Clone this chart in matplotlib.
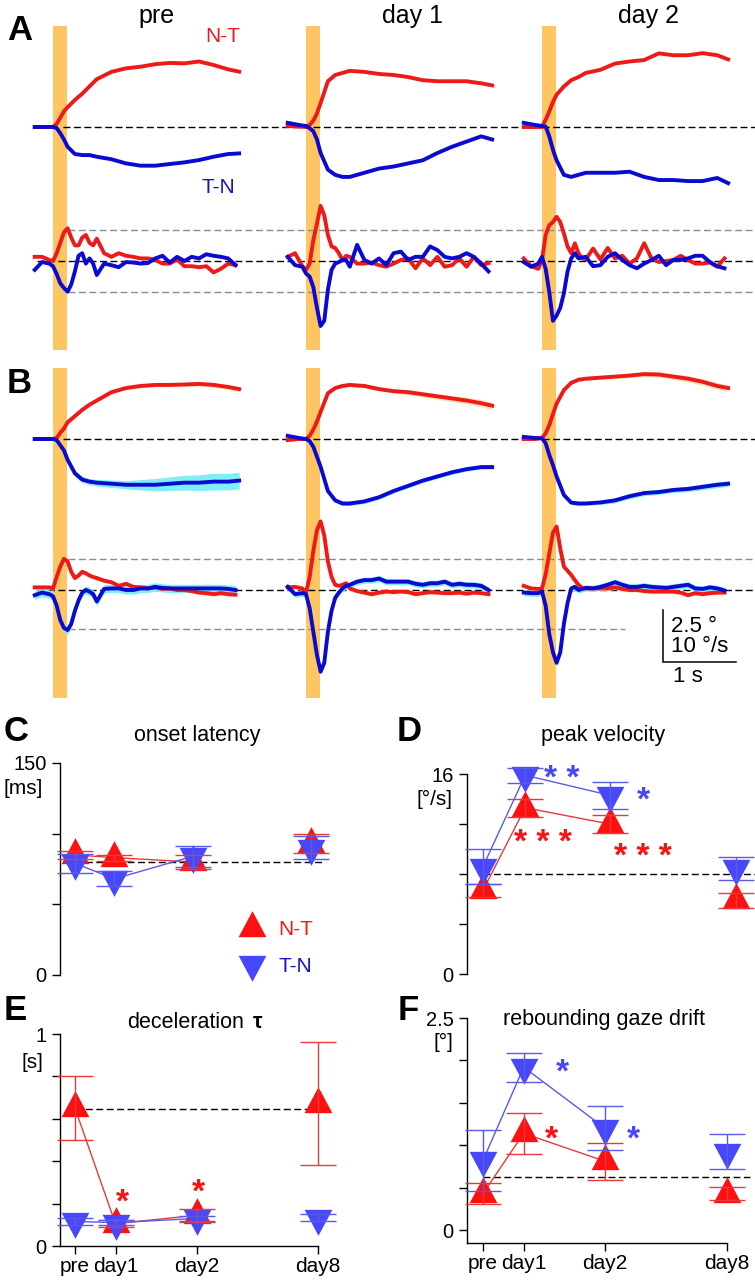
import numpy as np
import matplotlib
matplotlib.use('Agg')
import matplotlib.pyplot as plt
from matplotlib.lines import Line2D
from matplotlib.path import Path

plt.rcParams['font.family'] = ['Liberation Sans', 'DejaVu Sans']

# ---------------- trace data ----------------
# time (s) relative to stimulus onset
t_pos = [-0.25, -0.1, 0.0, 0.05, 0.1, 0.15, 0.2, 0.3, 0.4, 0.5, 0.6, 0.8,
         1.0, 1.2, 1.4, 1.6, 1.8, 2.0, 2.2, 2.4, 2.55]
t_vel = [-0.25, -0.15, -0.05, 0.0, 0.05, 0.1, 0.15, 0.2, 0.25, 0.3, 0.35,
         0.4, 0.45, 0.5, 0.55, 0.6, 0.7, 0.8, 0.9, 1.0, 1.1, 1.2, 1.3, 1.4,
         1.5, 1.6, 1.7, 1.8, 1.9, 2.0, 2.1, 2.2, 2.3, 2.4, 2.5]

# panel A, eye position (deg)
a_pre_nt_pos = [0, 0, 0, 0.15, 0.45, 0.75, 0.95, 1.3, 1.6, 1.95, 2.3, 2.65,
                2.82, 2.9, 3.02, 3.08, 3.06, 3.15, 2.98, 2.77, 2.66]
a_pre_tn_pos = [0, 0, 0, -0.05, -0.3, -0.6, -0.95, -1.3, -1.35, -1.35, -1.43,
                -1.55, -1.75, -1.86, -1.86, -1.78, -1.7, -1.59, -1.43, -1.3, -1.27]
a_d1_nt_pos = [0.05, 0.02, 0, 0.1, 0.3, 0.65, 1.15, 2.2, 2.5, 2.6, 2.7, 2.65,
               2.55, 2.5, 2.4, 2.25, 2.2, 2.2, 2.2, 2.1, 2.0]
a_d1_tn_pos = [0.2, 0.1, 0.05, -0.06, -0.2, -0.6, -1.25, -2.05, -2.3, -2.4,
               -2.4, -2.2, -2.0, -1.9, -1.75, -1.6, -1.25, -0.95, -0.7, -0.45, -0.6]
a_d2_nt_pos = [0, 0, 0, 0.35, 0.75, 1.2, 1.55, 1.95, 2.25, 2.4, 2.6, 2.75,
               3.05, 3.15, 3.22, 3.54, 3.45, 3.45, 3.55, 3.45, 3.25]
a_d2_tn_pos = [0.2, 0.1, 0.05, 0.02, -0.45, -1.1, -1.6, -2.3, -2.4, -2.3,
               -2.2, -2.2, -2.2, -2.15, -2.4, -2.55, -2.55, -2.6, -2.6, -2.45, -2.7]

# panel A, eye velocity (deg/s)
a_pre_nt_vel = [0.8, 0.8, 0.2, 0.0, 1.5, 3.5, 5.5, 6.3, 4.5, 3.0, 3.0, 4.5,
                5.0, 3.5, 3.0, 4.3, 1.5, 0.8, 1.5, 1.0, 0.8, 0.5, 0.5, 0.2,
                -0.5, -0.5, 0.3, -1.0, -1.0, -1.2, -1.0, -2.2, -1.5, -0.5, -0.8]
a_pre_tn_vel = [-1.7, -0.2, -0.5, -1.0, -2.5, -4.3, -5.2, -5.9, -4.5, -2.0,
                1.0, 1.5, -0.5, 0.5, -0.5, -2.7, -0.5, -0.8, -1.2, -0.2, -0.3,
                -0.5, -0.4, 0.5, 1.0, -0.3, 0.8, 0.0, 0.8, 0.5, 1.3, 1.0, 0.8,
                0.5, -0.8]
a_d1_nt_vel = [0.8, 1.5, -1.0, -1.7, -0.5, 4.0, 7.2, 10.6, 8.8, 5.0, 2.8, 2.5,
               1.5, 0.2, 1.0, 0.8, -0.5, -0.5, -0.3, -0.8, -1.1, -0.5, 0.2,
               0.5, -1.4, 0.5, -0.8, 0.8, -1.1, -0.8, 0.5, -1.1, 0.8, -0.8, -0.4]
a_d1_tn_vel = [0.8, -0.8, -1.1, -2.4, -3.0, -5.0, -9.0, -12.5, -11.5, -5.5,
               -1.7, -0.5, -0.2, 0.2, 0.2, -1.1, 3.1, 0.2, -0.5, 0.5, -0.8,
               1.5, 1.8, 0.2, 0.8, 0.8, 2.8, 2.1, 0.8, 0.5, 0.8, 1.5, 0.8,
               -0.5, -2.0]
a_d2_nt_vel = [0.5, -1.0, -1.5, 0.2, 5.0, 6.9, 7.5, 8.5, 7.5, 5.3, 2.8, 1.5,
               3.4, 1.5, 0.5, 0.3, 2.4, 0.3, 2.5, 0.5, 1.0, -0.5, 0.5, 3.4,
               0.5, -0.2, 0.0, 0.2, 1.0, 0.2, -0.5, -0.5, -0.3, -1.1, 0.5]
a_d2_tn_vel = [-0.2, -1.1, -0.5, 0.8, -1.5, -6.0, -11.5, -10.5, -9.0, -6.2,
               -2.0, 0.5, 1.5, 0.5, 0.7, 0.8, -1.0, -0.8, 0.8, 1.5, 0.2, -0.8,
               -1.4, -0.5, 0.2, 1.0, -0.8, 0.2, 0.2, 0.5, 1.0, 1.0, -0.2,
               -1.0, -1.4]

# panel B (averages), eye position (deg) and SEM
b_pre_nt_pos = [0, 0, 0, 0.05, 0.3, 0.5, 0.8, 1.1, 1.4, 1.65, 1.85, 2.25,
                2.45, 2.55, 2.6, 2.6, 2.62, 2.65, 2.6, 2.5, 2.4]
b_pre_tn_pos = [0, 0, 0, -0.05, -0.3, -0.55, -1.0, -1.65, -1.95, -2.05, -2.1,
                -2.15, -2.2, -2.2, -2.2, -2.15, -2.1, -2.1, -2.05, -2.05, -2.0]
b_d1_nt_pos = [-0.05, 0, 0, 0.15, 0.45, 0.83, 1.3, 2.2, 2.45, 2.55, 2.6, 2.55,
               2.4, 2.3, 2.25, 2.15, 2.05, 1.95, 1.85, 1.72, 1.6]
b_d1_tn_pos = [0.15, 0.05, 0, -0.1, -0.37, -0.85, -1.33, -2.5, -2.95, -3.1,
               -3.1, -3.0, -2.8, -2.5, -2.25, -2.0, -1.8, -1.6, -1.45, -1.35, -1.35]
b_d2_nt_pos = [0, 0, 0.05, 0.27, 0.67, 1.2, 1.7, 2.35, 2.7, 2.85, 2.9, 2.95,
               3.0, 3.05, 3.12, 3.1, 3.0, 2.9, 2.75, 2.55, 2.45]
b_d2_tn_pos = [0.1, 0.05, 0.03, -0.2, -0.77, -1.25, -1.8, -2.69, -3.06, -3.1,
               -3.1, -3.05, -2.95, -2.75, -2.6, -2.55, -2.45, -2.4, -2.3, -2.2, -2.15]

b_pre_nt_sem = [0.03, 0.03, 0.03, 0.04, 0.05, 0.06, 0.07, 0.08, 0.08, 0.08,
                0.08, 0.08, 0.08, 0.09, 0.1, 0.1, 0.1, 0.1, 0.12, 0.12, 0.12]
b_pre_tn_sem = [0.03, 0.03, 0.03, 0.05, 0.08, 0.1, 0.12, 0.15, 0.15, 0.15,
                0.16, 0.18, 0.2, 0.25, 0.3, 0.33, 0.35, 0.38, 0.4, 0.4, 0.4]
b_d1_nt_sem = [0.03, 0.03, 0.03, 0.04, 0.05, 0.06, 0.07, 0.08, 0.08, 0.08,
               0.08, 0.09, 0.1, 0.1, 0.12, 0.13, 0.14, 0.15, 0.16, 0.18, 0.18]
b_d1_tn_sem = [0.03, 0.03, 0.03, 0.04, 0.05, 0.06, 0.07, 0.08, 0.1, 0.1, 0.1,
               0.1, 0.1, 0.1, 0.1, 0.1, 0.1, 0.1, 0.1, 0.1, 0.1]
b_d2_nt_sem = [0.03, 0.03, 0.03, 0.04, 0.05, 0.06, 0.07, 0.08, 0.08, 0.08,
               0.08, 0.08, 0.1, 0.1, 0.12, 0.13, 0.14, 0.15, 0.16, 0.16, 0.16]
b_d2_tn_sem = [0.03, 0.03, 0.03, 0.04, 0.05, 0.06, 0.07, 0.08, 0.1, 0.1, 0.1,
               0.1, 0.12, 0.12, 0.12, 0.12, 0.12, 0.13, 0.14, 0.14, 0.14]

# panel B, eye velocity (deg/s)
b_pre_nt_vel = [0.5, 0.5, 0.5, 0.3, 2.5, 4.5, 6.0, 5.5, 3.5, 2.3, 2.8, 3.5,
                3.2, 2.8, 2.5, 2.3, 1.8, 1.5, 0.8, 1.2, 0.6, 0.5, 0.3, 0.5,
                0.2, 0.3, 0.0, 0.0, -0.2, -0.5, -0.6, -0.8, -0.6, -0.8, -0.9]
b_pre_tn_vel = [-1.0, -0.5, -0.8, -1.2, -3.0, -5.8, -7.3, -7.7, -6.5, -4.0,
                -2.0, -0.5, 0.0, -0.3, -0.8, -2.2, 0.2, 0.3, 0.3, 0.0, 0.0,
                0.3, 0.3, 0.6, 0.4, 0.3, 0.3, 0.3, 0.3, 0.3, 0.3, 0.3, 0.3,
                0.2, 0.0]
b_d1_nt_vel = [0.5, 0.6, 0.3, -0.5, 2.5, 7.5, 11.5, 13.2, 10.5, 5.5, 2.5, 1.0,
               0.8, 1.0, 1.3, 0.3, -0.2, -0.5, -0.8, -0.5, -0.3, -0.4, -0.3,
               -0.4, -0.8, -0.6, -0.4, -0.5, -0.6, -0.6, -0.5, -0.7, -0.5,
               -0.6, -0.8]
b_d1_tn_vel = [0.6, -0.8, -0.6, -0.8, -3.5, -8.0, -12.5, -15.7, -14.0, -8.0,
               -4.0, -1.5, -0.5, 0.3, 0.8, 1.0, 1.6, 1.9, 1.9, 2.2, 1.6, 1.6,
               1.6, 1.6, 1.2, 1.0, 1.3, 1.3, 1.6, 1.0, 1.2, 1.0, 1.0, 0.8, 0.0]
b_d2_nt_vel = [0.8, 0.3, 0.2, 0.3, 3.0, 7.0, 11.0, 12.2, 8.0, 4.5, 3.7, 2.9,
               1.9, 1.0, 0.4, 0.3, 0.3, 0.3, 0.3, 0.5, 0.2, 0.0, 0.0, -0.2,
               -0.3, -0.3, -0.3, -0.3, -0.5, -1.0, -0.6, -0.8, -0.6, -0.5, -0.5]
b_d2_tn_vel = [-0.5, -0.6, -0.6, -0.3, -3.0, -8.5, -12.0, -14.0, -12.0, -6.5,
               -2.5, 0.3, 0.6, 0.0, 0.2, 0.4, 0.3, 0.6, 1.0, 1.5, 1.0, 0.6,
               0.6, 0.8, 0.6, 0.5, 0.4, 0.6, 0.8, 1.0, 0.3, 0.2, 0.5, 0.3, -0.1]
b_vel_sem = [0.4, 0.8, 0.4, 0.6, 0.4, 0.6]   # pre NT, pre TN, d1 NT, d1 TN, d2 NT, d2 TN

col_labels = ['pre', 'day 1', 'day 2']

# ---------------- summary data (mean, SEM) ----------------
days = ['pre', 'day1', 'day2', 'day8']
day_pos = [0, 1, 3, 6]

lat_nt = [85, 83, 80, 93]
lat_nt_sem = [3, 2, 5, 7]
lat_tn = [79, 68, 84, 90]
lat_tn_sem = [6.5, 5.3, 7.5, 8]
lat_base = 80

pv_nt = [6.7, 13.3, 12.0, 5.9]
pv_nt_sem = [0.5, 0.7, 0.7, 0.6]
pv_tn = [8.6, 15.9, 14.3, 8.45]
pv_tn_sem = [1.4, 0.6, 1.1, 0.9]
pv_base = 8.0

tau_nt = [0.65, 0.105, 0.145, 0.67]
tau_nt_sem = [0.15, 0.016, 0.03, 0.29]
tau_tn = [0.116, 0.11, 0.13, 0.133]
tau_tn_sem = [0.018, 0.012, 0.012, 0.017]
tau_base = 0.645

drift_nt = [0.43, 1.14, 0.81, 0.43]
drift_nt_sem = [0.12, 0.24, 0.22, 0.08]
drift_tn = [0.82, 1.92, 1.2, 0.925]
drift_tn_sem = [0.36, 0.17, 0.26, 0.21]
drift_base = 0.62

# ---------------- style ----------------
RED = '#ee1a1a'
BLUE = '#0a0ad0'
ORANGE = '#fdc662'
BAND_RED = '#fde0b4'
BAND_BLUE = '#80eef6'
MRED = '#ff1010'
MBLUE = '#4848fa'
ERED = '#e63a3a'
EBLUE = '#5a5ae8'
DASH = (0, (5, 2.5))

W, H = 755, 1280
fig = plt.figure(figsize=(W / 100, H / 100), dpi=100)
fig.patch.set_facecolor('white')


def fx(x):
    return x / W


def fy(y):
    return 1 - y / H


# ---------------- panels A and B ----------------
PX_S = 73.0
PX_DEG = 20.8
VEL_SCALE = 0.25
ONSET_PX = 53
col_offset = [0.0, 253 / PX_S, 489 / PX_S]
STIM = 0.19


def trace_panel(top, bot, base, vel_px, bar_top, bar_bot, gray_hi, gray_lo,
                gray_lo_end, traces, sems=None):
    ax = fig.add_axes([0, fy(bot), 1, (bot - top) / H])
    x0, x1 = -ONSET_PX / PX_S, (W - ONSET_PX) / PX_S
    ax.set_xlim(x0, x1)
    ax.set_ylim(-(bot - base) / PX_DEG, (base - top) / PX_DEG)
    ax.axis('off')
    vb = -(vel_px - base) / PX_DEG
    h = bot - top
    for off in col_offset:
        ax.axvspan(off, off + STIM, ymin=(bot - bar_bot) / h,
                   ymax=(bot - bar_top) / h, color=ORANGE, lw=0, zorder=1)
    ax.hlines(0, 10 / PX_S, x1, colors='k', linestyles=DASH, lw=1, zorder=2)
    ax.hlines(vb, -16 / PX_S, x1, colors='k', linestyles=DASH, lw=1, zorder=2)
    ax.hlines(vb + gray_hi * VEL_SCALE, 15 / PX_S, x1, colors='#8c8c8c',
              linestyles=DASH, lw=1, zorder=2)
    ax.hlines(vb + gray_lo * VEL_SCALE, 15 / PX_S, gray_lo_end, colors='#8c8c8c',
              linestyles=DASH, lw=1, zorder=2)
    tp = np.array(t_pos)
    tv = np.array(t_vel)
    for i, (off, (nt_p, tn_p, nt_v, tn_v)) in enumerate(zip(col_offset, traces)):
        if sems is not None:
            s_nt, s_tn = sems[i]
            vs_nt, vs_tn = b_vel_sem[2 * i], b_vel_sem[2 * i + 1]
            ax.fill_between(tp + off, np.array(nt_p) - s_nt, np.array(nt_p) + s_nt,
                            color=BAND_RED, lw=0, zorder=3)
            ax.fill_between(tp + off, np.array(tn_p) - s_tn, np.array(tn_p) + s_tn,
                            color=BAND_BLUE, lw=0, zorder=3)
            ax.fill_between(tv + off, vb + (np.array(nt_v) - vs_nt) * VEL_SCALE,
                            vb + (np.array(nt_v) + vs_nt) * VEL_SCALE,
                            color=BAND_RED, lw=0, zorder=3)
            ax.fill_between(tv + off, vb + (np.array(tn_v) - vs_tn) * VEL_SCALE,
                            vb + (np.array(tn_v) + vs_tn) * VEL_SCALE,
                            color=BAND_BLUE, lw=0, zorder=3)
        ax.plot(tp + off, nt_p, color=RED, lw=2.8, zorder=4, solid_joinstyle='round')
        ax.plot(tp + off, tn_p, color=BLUE, lw=2.8, zorder=5, solid_joinstyle='round')
        ax.plot(tv + off, vb + np.array(nt_v) * VEL_SCALE, color=RED, lw=2.8,
                zorder=4, solid_joinstyle='round')
        ax.plot(tv + off, vb + np.array(tn_v) * VEL_SCALE, color=BLUE, lw=2.8,
                zorder=5, solid_joinstyle='round')
    return ax


traces_a = [(a_pre_nt_pos, a_pre_tn_pos, a_pre_nt_vel, a_pre_tn_vel),
            (a_d1_nt_pos, a_d1_tn_pos, a_d1_nt_vel, a_d1_tn_vel),
            (a_d2_nt_pos, a_d2_tn_pos, a_d2_nt_vel, a_d2_tn_vel)]
traces_b = [(b_pre_nt_pos, b_pre_tn_pos, b_pre_nt_vel, b_pre_tn_vel),
            (b_d1_nt_pos, b_d1_tn_pos, b_d1_nt_vel, b_d1_tn_vel),
            (b_d2_nt_pos, b_d2_tn_pos, b_d2_nt_vel, b_d2_tn_vel)]
sems_b = [(np.array(b_pre_nt_sem), np.array(b_pre_tn_sem)),
          (np.array(b_d1_nt_sem), np.array(b_d1_tn_sem)),
          (np.array(b_d2_nt_sem), np.array(b_d2_tn_sem))]

ax_a = trace_panel(20, 352, 127, 261, 26, 350, 6, -6, (W - ONSET_PX) / PX_S, traces_a)
ax_b = trace_panel(360, 700, 439, 590, 368, 698, 6, -7.5, (625 - ONSET_PX) / PX_S,
                   traces_b, sems_b)

# scale bar in panel B
sb_x = (663 - ONSET_PX) / PX_S
sb_y = -(662 - 439) / PX_DEG
ax_b.plot([sb_x, sb_x, sb_x + 1.0], [sb_y + 2.5, sb_y, sb_y], color='k', lw=1.1,
          solid_joinstyle='miter', zorder=6)
fig.text(fx(671), fy(627), '2.5 \u00b0', fontsize=16, va='center', ha='left')
fig.text(fx(671), fy(647), '10 \u00b0/s', fontsize=16, va='center', ha='left')
fig.text(fx(673), fy(676), '1 s', fontsize=16, va='center', ha='left')

for lab, xc in zip(col_labels, [157, 412, 648]):
    fig.text(fx(xc), fy(23), lab, fontsize=18, ha='center', va='baseline')
fig.text(fx(223), fy(42), 'N-T', fontsize=15, color=RED, ha='center', va='baseline')
fig.text(fx(218), fy(193), 'T-N', fontsize=15, color='#1414c8', ha='center',
         va='baseline')

# ---------------- panels C-F ----------------
TRI_UP = Path([(-0.8, -0.5), (0.8, -0.5), (0.0, 1.0), (-0.8, -0.5)],
              [Path.MOVETO, Path.LINETO, Path.LINETO, Path.CLOSEPOLY])
TRI_DN = Path([(-0.8, 0.5), (0.8, 0.5), (0.0, -1.0), (-0.8, 0.5)],
              [Path.MOVETO, Path.LINETO, Path.LINETO, Path.CLOSEPOLY])
MS = 25


def summary_panel(left, right, top, bot, pre_px, unit, ytop, ybot, yticks,
                  nt, nt_sem, tn, tn_sem, base, dash_end, xaxis):
    ax = fig.add_axes([fx(left), fy(bot), (right - left) / W, (bot - top) / H])
    xl = (left - pre_px) / unit
    ax.set_xlim(xl, (right - pre_px) / unit)
    ax.set_ylim(ybot, ytop)
    ax.patch.set_alpha(0)
    for s in ['top', 'right']:
        ax.spines[s].set_visible(False)
    ax.spines['left'].set_linewidth(1)
    ax.spines['left'].set_bounds(ybot if xaxis else yticks[0], yticks[-1])
    ax.set_yticks(yticks, [f'{yticks[0]:g}'] + [''] * (len(yticks) - 2) +
                  [f'{yticks[-1]:g}'])
    ax.tick_params(axis='y', direction='out', length=5.8, width=1,
                   labelsize=14.5, pad=4)
    if xaxis:
        ax.spines['bottom'].set_linewidth(1)
        ax.spines['bottom'].set_bounds(xl, day_pos[-1])
        ax.set_xticks(day_pos, days)
        ax.tick_params(axis='x', direction='out', length=5.8, width=1,
                       labelsize=15, pad=2)
    else:
        ax.spines['bottom'].set_visible(False)
        ax.set_xticks([])
    ax.hlines(base, 0, dash_end, colors='k', linestyles=DASH, lw=1, zorder=1,
              clip_on=False)
    ax.plot(day_pos[:3], nt[:3], color=ERED, lw=1, zorder=2)
    ax.plot(day_pos[:3], tn[:3], color=EBLUE, lw=1, zorder=2)
    ax.plot(day_pos, nt, ls='none', marker=TRI_UP, ms=MS, color=MRED, mew=0,
            zorder=3, clip_on=False)
    ax.plot(day_pos, tn, ls='none', marker=TRI_DN, ms=MS, color=MBLUE, mew=0,
            zorder=4, clip_on=False)
    ax.errorbar(day_pos, nt, yerr=nt_sem, fmt='none', ecolor=ERED,
                elinewidth=1, capsize=13, capthick=1, zorder=5, clip_on=False)
    ax.errorbar(day_pos, tn, yerr=tn_sem, fmt='none', ecolor=EBLUE,
                elinewidth=1, capsize=13, capthick=1, zorder=6, clip_on=False)
    return ax


ax_c = summary_panel(60, 345, 763, 975, 75, 39.3, 150, 0, [0, 50, 100, 150],
                     lat_nt, lat_nt_sem, lat_tn, lat_tn_sem, lat_base, 6.36, False)
ax_d = summary_panel(467, 755, 774, 974, 483, 42.2, 16, 0, [0, 4, 8, 12, 16],
                     pv_nt, pv_nt_sem, pv_tn, pv_tn_sem, pv_base, 6.45, False)
ax_e = summary_panel(60, 345, 1034, 1246, 75, 40.5, 1.0, 0,
                     [0, 0.2, 0.4, 0.6, 0.8, 1.0],
                     tau_nt, tau_nt_sem, tau_tn, tau_tn_sem, tau_base, 6.0, True)
ax_f = summary_panel(467, 755, 1018, 1243, 483, 40.7, 2.5, -13 / 84.8,
                     [0, 0.5, 1.0, 1.5, 2.0, 2.5],
                     drift_nt, drift_nt_sem, drift_tn, drift_tn_sem, drift_base,
                     6.56, True)

# legend in C
handles = [Line2D([], [], ls='none', marker=TRI_UP, ms=MS, color=MRED, mew=0),
           Line2D([], [], ls='none', marker=TRI_DN, ms=MS, color=MBLUE, mew=0)]
ax_c.legend(handles, ['N-T', 'T-N'], loc='upper left',
            bbox_to_anchor=((241.6 - 60) / 285, (975 - 920) / 212),
            frameon=False, handlelength=1.0, handletextpad=0.75,
            labelspacing=0.85, fontsize=15, labelcolor=[RED, '#1414c8'],
            borderpad=0, borderaxespad=0)


def stars(ax, x, y, s, color, fs=24):
    ax.annotate(s, (x, y), xytext=(0, -0.57 * fs), textcoords='offset points',
                ha='center', va='baseline', fontsize=fs, fontweight='bold',
                color=color, annotation_clip=False)


stars(ax_d, 1.87, 16.4, '* *', MBLUE)
stars(ax_d, 3.79, 14.64, '*', MBLUE)
stars(ax_d, 1.42, 11.28, '* * *', MRED)
stars(ax_d, 3.79, 10.16, '* * *', MRED)
stars(ax_e, 1.16, 0.25, '*', MRED)
stars(ax_e, 3.04, 0.297, '*', MRED)
stars(ax_f, 1.94, 1.97, '*', MBLUE)
stars(ax_f, 3.69, 1.18, '*', MBLUE)
stars(ax_f, 1.67, 1.18, '*', MRED)

# titles and unit labels
fig.text(fx(197), fy(741), 'onset latency', fontsize=15.5, ha='center', va='baseline')
fig.text(fx(603), fy(741), 'peak velocity', fontsize=15.5, ha='center', va='baseline')
fig.text(fx(127), fy(1028), 'deceleration', fontsize=15.5, ha='left', va='baseline')
fig.text(fx(253), fy(1028), '\u03c4', fontsize=15.5, fontweight='bold', ha='left',
         va='baseline')
fig.text(fx(604), fy(1025), 'rebounding gaze drift', fontsize=15.5, ha='center',
         va='baseline')

fig.text(fx(43), fy(789), '[ms]', fontsize=15, ha='right', va='center')
fig.text(fx(452), fy(799), '[\u00b0/s]', fontsize=15, ha='right', va='center')
fig.text(fx(43), fy(1062), '[s]', fontsize=15, ha='right', va='center')
fig.text(fx(453), fy(1042), '[\u00b0]', fontsize=15, ha='right', va='center')

# panel letters
for lab, x, y in [('A', 7, 40), ('B', 7, 393), ('C', 4, 741), ('D', 397, 741),
                  ('E', 4, 1020), ('F', 398, 1020)]:
    fig.text(fx(x), fy(y), lab, fontsize=25, fontweight='bold', ha='left',
             va='baseline')

fig.savefig('out.png', dpi=100, facecolor='white')
